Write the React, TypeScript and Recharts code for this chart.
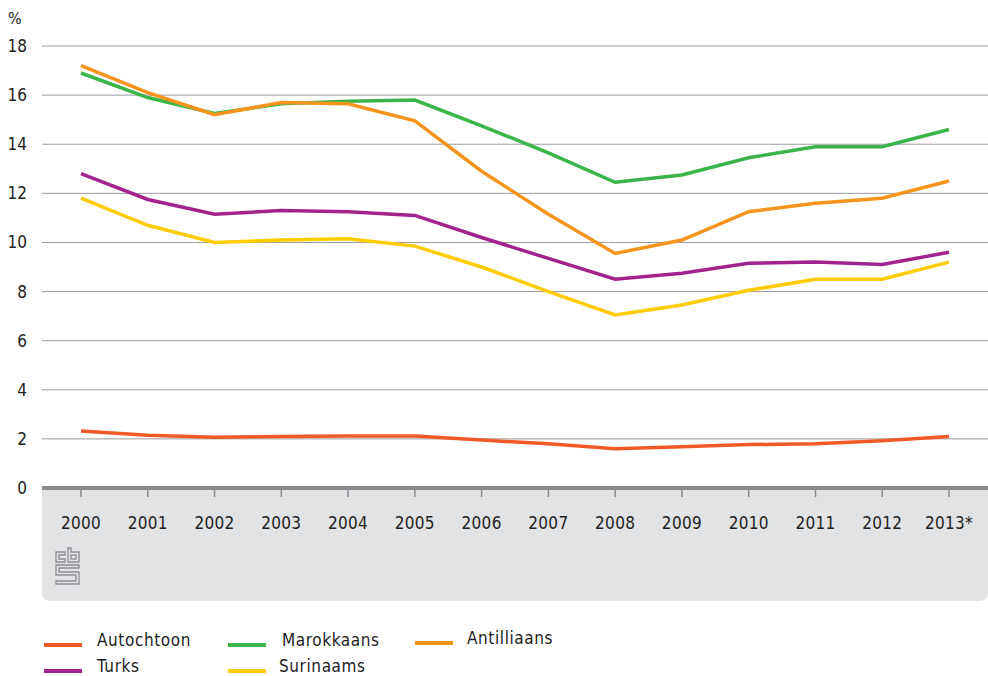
import React from 'react';
import { LineChart, Line, XAxis, YAxis, CartesianGrid } from 'recharts';

const years = ['2000', '2001', '2002', '2003', '2004', '2005', '2006', '2007', '2008', '2009', '2010', '2011', '2012', '2013*'];

const autochtoon = [2.32, 2.15, 2.07, 2.1, 2.12, 2.12, 1.95, 1.8, 1.6, 1.68, 1.77, 1.8, 1.92, 2.1];
const marokkaans = [16.9, 15.9, 15.25, 15.65, 15.75, 15.8, 14.75, 13.65, 12.45, 12.75, 13.45, 13.9, 13.9, 14.6];
const antilliaans = [17.2, 16.1, 15.2, 15.7, 15.65, 14.95, 12.9, 11.15, 9.55, 10.1, 11.25, 11.6, 11.8, 12.5];
const turks = [12.8, 11.75, 11.15, 11.3, 11.25, 11.1, 10.2, 9.35, 8.5, 8.75, 9.15, 9.2, 9.1, 9.6];
const surinaams = [11.8, 10.7, 10.0, 10.1, 10.15, 9.85, 9.0, 8.0, 7.05, 7.45, 8.05, 8.5, 8.5, 9.2];

const yTicks = [0, 2, 4, 6, 8, 10, 12, 14, 16, 18];

const series = [
  { key: 'autochtoon', name: 'Autochtoon', color: '#f15a24', values: autochtoon },
  { key: 'marokkaans', name: 'Marokkaans', color: '#3ab54a', values: marokkaans },
  { key: 'antilliaans', name: 'Antilliaans', color: '#f7941d', values: antilliaans },
  { key: 'turks', name: 'Turks', color: '#a3238e', values: turks },
  { key: 'surinaams', name: 'Surinaams', color: '#ffcc00', values: surinaams },
];

// legend placement: swatch left, text left, swatch centre y
const legendPos = [
  { sx: 44, tx: 97, y: 645 },
  { sx: 228, tx: 282, y: 645 },
  { sx: 415, tx: 467, y: 643 },
  { sx: 44, tx: 97, y: 671 },
  { sx: 228, tx: 279, y: 671 },
];

const data = years.map((year, i) => {
  const row: Record<string, string | number> = { year };
  series.forEach((s) => {
    row[s.key] = s.values[i];
  });
  return row;
});

const font = '"DejaVu Sans Condensed", "DejaVu Sans", sans-serif';

const YTick = (props: any) => {
  const { y, payload } = props;
  return (
    <text x={27} y={y + 6} textAnchor="end" fontSize={17} fontFamily={font} fill="#222">
      {payload.value}
    </text>
  );
};

const XTick = (props: any) => {
  const { x, payload } = props;
  return (
    <text x={x} y={529} textAnchor="middle" fontSize={17} fontFamily={font} fill="#222" letterSpacing={0.3}>
      {payload.value}
    </text>
  );
};

function Logo() {
  return (
    <svg width={28} height={40} style={{ position: 'absolute', left: 54, top: 547 }}>
      <g fill="none" stroke="#8e8f92" strokeWidth={1.3}>
        <path d="M2 5 H11 V8 H5 V12 H11 V15 H2 Z" />
        <path d="M14 1 H17 V5 H25 V15 H14 Z" />
        <rect x={17} y={8} width={5} height={4} />
        <path d="M2 18 H25 V21 H5 V25 H25 V37 H2 V34 H22 V28 H2 Z" />
      </g>
    </svg>
  );
}

export default function App() {
  return (
    <div style={{ position: 'absolute', left: 0, top: 0, width: 988, height: 676, background: '#fff', fontFamily: font }}>
      <div
        style={{
          position: 'absolute',
          left: 42,
          top: 488,
          width: 946,
          height: 113,
          background: '#e2e3e5',
          borderBottomLeftRadius: 8,
          borderBottomRightRadius: 8,
        }}
      />
      <Logo />
      <div style={{ position: 'absolute', left: 8, top: 9, fontSize: 16, color: '#222' }}>%</div>
      <div style={{ position: 'absolute', left: 0, top: 0 }}>
        <LineChart width={988} height={676} data={data} margin={{ top: 46, right: 0, bottom: 148, left: 0 }}>
          <CartesianGrid vertical={false} stroke="#9b9b9b" strokeWidth={1} />
          <XAxis
            dataKey="year"
            padding={{ left: 39, right: 39 }}
            height={40}
            axisLine={{ stroke: '#8a8b8d', strokeWidth: 4 }}
            tickLine={{ stroke: '#8a8b8d', strokeWidth: 1.5 }}
            tickSize={9}
            tick={<XTick />}
            interval={0}
          />
          <YAxis
            domain={[0, 18]}
            ticks={yTicks}
            width={42}
            axisLine={false}
            tickLine={false}
            tick={<YTick />}
            interval={0}
          />
          {series.map((s) => (
            <Line
              key={s.key}
              dataKey={s.key}
              name={s.name}
              type="linear"
              stroke={s.color}
              strokeWidth={3.5}
              dot={false}
              activeDot={false}
              isAnimationActive={false}
            />
          ))}
        </LineChart>
      </div>
      {series.map((s, i) => (
        <div key={s.key}>
          <div
            style={{
              position: 'absolute',
              left: legendPos[i].sx,
              top: legendPos[i].y - 2,
              width: 38,
              height: 4,
              background: s.color,
            }}
          />
          <div
            style={{
              position: 'absolute',
              left: legendPos[i].tx,
              top: legendPos[i].y - 15,
              fontSize: 17,
              letterSpacing: 0.6,
              color: '#222',
              lineHeight: '20px',
              whiteSpace: 'nowrap',
            }}
          >
            {s.name}
          </div>
        </div>
      ))}
    </div>
  );
}
